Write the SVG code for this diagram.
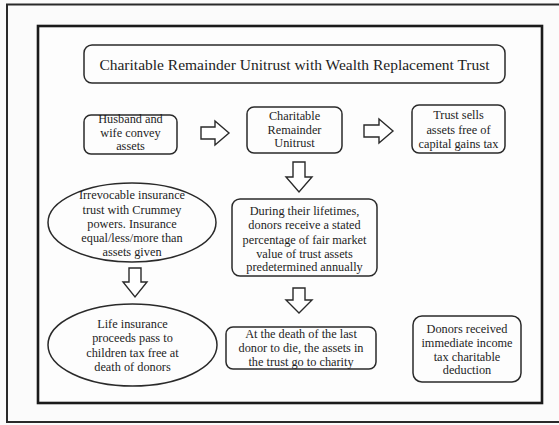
<svg xmlns="http://www.w3.org/2000/svg" width="559" height="425" viewBox="0 0 559 425">
  <style>
    .box { fill: #fdfdfd; stroke: #2a2a2a; stroke-width: 1.5; }
    .ell { fill: #fdfdfd; stroke: #2a2a2a; stroke-width: 1.5; }
    .arr { fill: #ffffff; stroke: #2a2a2a; stroke-width: 1.4; stroke-linejoin: miter; }
    text { fill: #1e1e1e; text-anchor: middle; }
    .t { font-size: 12.3px; }
    .title { font-size: 15.5px; }
  </style>
  <rect x="0" y="0" width="559" height="425" fill="#fbfbfb"/>
  <rect x="7" y="4.5" width="560" height="417.5" fill="none" stroke="#2a2a2a" stroke-width="2"/>
  <rect x="38" y="26" width="504" height="377" fill="#fdfdfd" stroke="#1a1a1a" stroke-width="2.6"/>

  <g font-family="'Liberation Serif', 'Times New Roman', Times, serif">
  <g id="title">
    <rect class="box" x="84" y="45" width="421" height="38" rx="8"/>
    <text class="title" x="294.5" y="69.5">Charitable Remainder Unitrust with Wealth Replacement Trust</text>
  </g>

  <g id="n1">
    <rect class="box" x="84" y="115" width="93" height="39" rx="7"/>
    <text class="t" x="130.5" y="123">Husband and</text>
    <text class="t" x="130.5" y="137">wife convey</text>
    <text class="t" x="130.5" y="150">assets</text>
  </g>

  <g id="n2">
    <rect class="box" x="247" y="107" width="95" height="46" rx="7"/>
    <text class="t" x="294.5" y="120">Charitable</text>
    <text class="t" x="294.5" y="133.5">Remainder</text>
    <text class="t" x="294.5" y="147">Unitrust</text>
  </g>

  <g id="n3">
    <rect class="box" x="412" y="105" width="93" height="48" rx="7"/>
    <text class="t" x="458.5" y="119">Trust sells</text>
    <text class="t" x="458.5" y="134">assets free of</text>
    <text class="t" x="458.5" y="148">capital gains tax</text>
  </g>

  <g id="n4">
    <rect class="box" x="232" y="199" width="145" height="77" rx="8"/>
    <text class="t" x="304.5" y="215">During their lifetimes,</text>
    <text class="t" x="304.5" y="229">donors receive a stated</text>
    <text class="t" x="304.5" y="244">percentage of fair market</text>
    <text class="t" x="304.5" y="258">value of trust assets</text>
    <text class="t" x="304.5" y="271">predetermined annually</text>
  </g>

  <g id="n5">
    <ellipse class="ell" cx="132" cy="222.5" rx="84" ry="39.5"/>
    <text class="t" x="132" y="199">Irrevocable insurance</text>
    <text class="t" x="132" y="214">trust with Crummey</text>
    <text class="t" x="132" y="228">powers. Insurance</text>
    <text class="t" x="132" y="242">equal/less/more than</text>
    <text class="t" x="132" y="256">assets given</text>
  </g>

  <g id="n6">
    <ellipse class="ell" cx="132.5" cy="345" rx="84.5" ry="41"/>
    <text class="t" x="132.5" y="328">Life insurance</text>
    <text class="t" x="132.5" y="342">proceeds pass to</text>
    <text class="t" x="132.5" y="357">children tax free at</text>
    <text class="t" x="132.5" y="371">death of donors</text>
  </g>

  <g id="n7">
    <rect class="box" x="226" y="327" width="150" height="42" rx="7"/>
    <text class="t" x="301" y="338">At the death of the last</text>
    <text class="t" x="301" y="352">donor to die, the assets in</text>
    <text class="t" x="301" y="366">the trust go to charity</text>
  </g>

  <g id="n8">
    <rect class="box" x="413" y="316" width="108" height="66" rx="9"/>
    <text class="t" x="467" y="333">Donors received</text>
    <text class="t" x="467" y="347">immediate income</text>
    <text class="t" x="467" y="361">tax charitable</text>
    <text class="t" x="467" y="374">deduction</text>
  </g>
  </g>

  <g id="connectors">
    <path class="arr" d="M201,127 H215 V121 L229,133 L215,145 V139 H201 Z"/>
    <path class="arr" d="M364,125 H379 V119 L393,131 L379,143 V137 H364 Z"/>
    <path class="arr" d="M293,162 H305 V177 H312 L299,192 L286,177 H293 Z"/>
    <path class="arr" d="M293,288 H305 V300 H312 L299,313 L286,300 H293 Z"/>
    <path class="arr" d="M129,268 H141 V282 H147 L135,297 L123,282 H129 Z"/>
  </g>
</svg>
